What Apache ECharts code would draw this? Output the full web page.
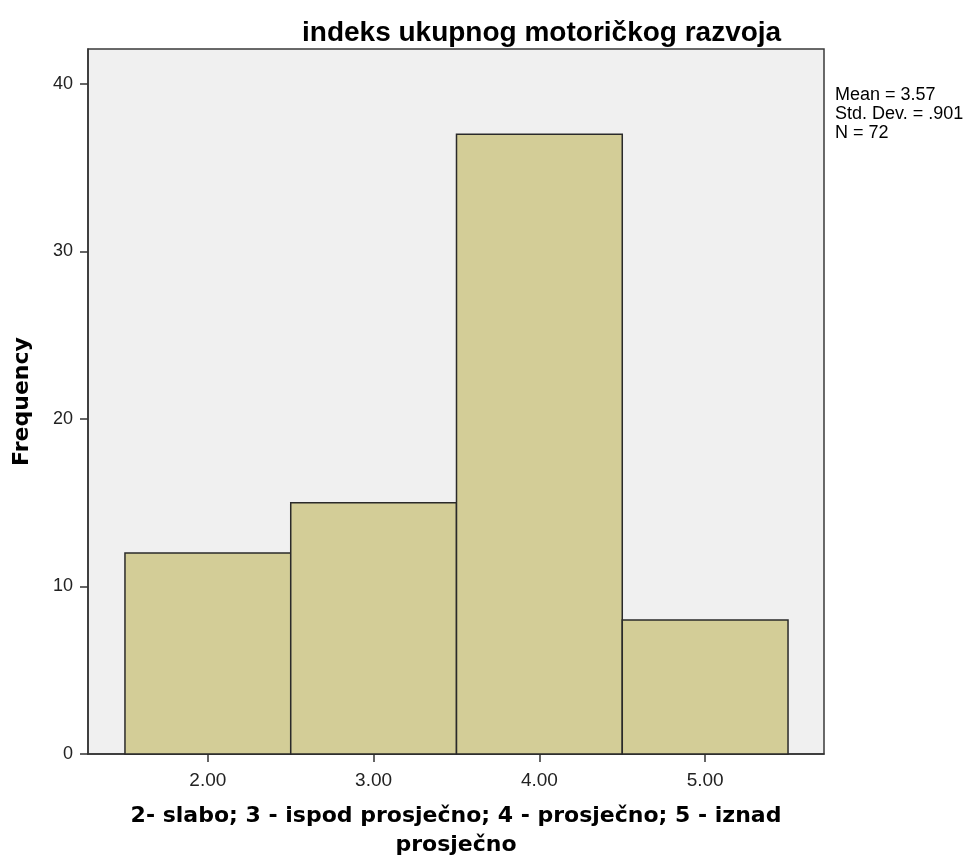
<!DOCTYPE html>
<html>
<head>
<meta charset="utf-8">
<script src="https://cdn.jsdelivr.net/npm/echarts@6/dist/echarts.min.js"></script>
<style>
  html, body { margin: 0; padding: 0; background: #fff; }
  #chart { width: 973px; height: 861px; }
</style>
</head>
<body>
<div id="chart"></div>
<script>
// histogram bins: [start, end] and frequency
const binStarts = [1.5, 2.5, 3.5, 4.5];
const binEnds = [2.5, 3.5, 4.5, 5.5];
const frequencies = [12, 15, 37, 8];
const xTickValues = [2, 3, 4, 5];
const yTickValues = [0, 10, 20, 30, 40];
const statsLines = ['Mean = 3.57', 'Std. Dev. = .901', 'N = 72'];

const chart = echarts.init(document.getElementById('chart'));

const barData = binStarts.map((s, i) => [s, binEnds[i], frequencies[i]]);

const option = {
  animation: false,
  title: {
    text: 'indeks ukupnog motoričkog razvoja',
    left: 302,
    top: 19,
    padding: 0,
    textStyle: { fontFamily: 'Liberation Sans', fontWeight: 'bold', fontSize: 28, color: '#000' }
  },
  graphic: [{
    type: 'text',
    left: 835,
    top: 86,
    style: {
      text: statsLines.join('\n'),
      font: '18px "Liberation Sans"',
      lineHeight: 19,
      fill: '#000'
    }
  }],
  grid: {
    left: 88, top: 49, width: 736, height: 705,
    outerBoundsMode: 'none',
    containLabel: false,
    show: true,
    backgroundColor: '#F0F0F0',
    borderColor: '#3a3a3a',
    borderWidth: 1.5
  },
  xAxis: {
    type: 'value',
    min: 1.277,
    max: 5.717,
    name: '2- slabo; 3 - ispod prosječno; 4 - prosječno; 5 - iznad\nprosječno',
    nameLocation: 'middle',
    nameGap: 48,
    nameTextStyle: { fontFamily: 'DejaVu Sans', fontWeight: 'bold', fontSize: 22, color: '#000', lineHeight: 29 },
    splitLine: { show: false },
    axisLine: { show: true, lineStyle: { color: '#333', width: 1.5 } },
    axisTick: { show: true, length: 8, customValues: xTickValues, lineStyle: { color: '#333', width: 1.5 } },
    axisLabel: {
      customValues: xTickValues,
      formatter: v => v.toFixed(2),
      margin: 17,
      fontFamily: 'Liberation Sans', fontSize: 19, color: '#222'
    }
  },
  yAxis: {
    type: 'value',
    min: 0,
    max: 42.09,
    name: 'Frequency',
    nameLocation: 'middle',
    nameGap: 55,
    nameTextStyle: { fontFamily: 'DejaVu Sans', fontWeight: 'bold', fontSize: 22, color: '#000' },
    splitLine: { show: false },
    axisLine: { show: true, lineStyle: { color: '#333', width: 1.5 } },
    axisTick: { show: true, length: 8, customValues: yTickValues, lineStyle: { color: '#333', width: 1.5 } },
    axisLabel: {
      customValues: yTickValues,
      margin: 15,
      fontFamily: 'Liberation Sans', fontSize: 18, color: '#222'
    }
  },
  series: [{
    type: 'custom',
    data: barData,
    encode: { x: [0, 1], y: 2 },
    renderItem: function (params, api) {
      const p0 = api.coord([api.value(0), 0]);
      const p1 = api.coord([api.value(1), api.value(2)]);
      return {
        type: 'rect',
        shape: { x: p0[0], y: p1[1], width: p1[0] - p0[0], height: p0[1] - p1[1] },
        style: { fill: '#D3CD97', stroke: '#2a2a2a', lineWidth: 1.5 }
      };
    }
  }]
};

chart.setOption(option);
</script>
</body>
</html>
